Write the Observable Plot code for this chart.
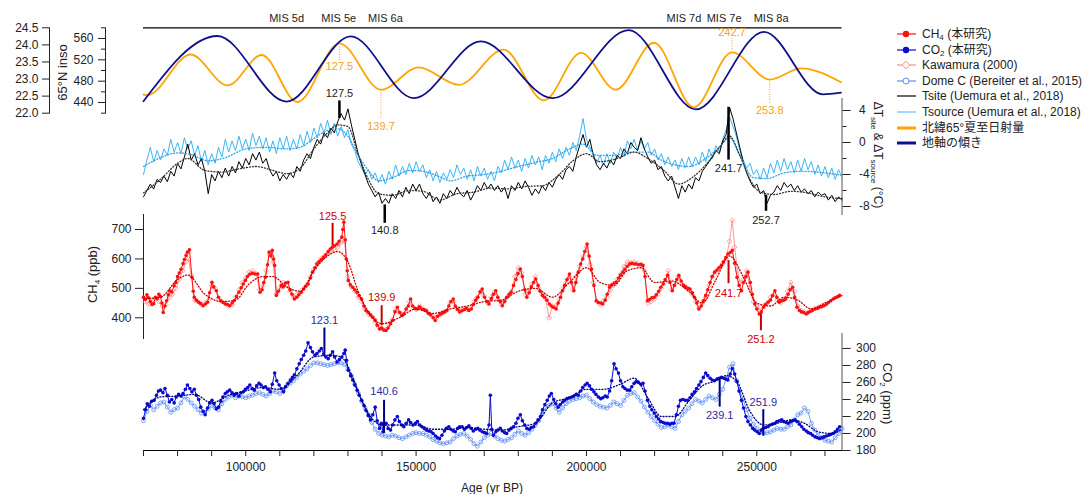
<!DOCTYPE html>
<html><head><meta charset="utf-8">
<script src="https://cdn.jsdelivr.net/npm/d3@7"></script>
<script src="https://cdn.jsdelivr.net/npm/@observablehq/plot@0.6"></script>
<style>
body{margin:0;background:#fff;font-family:"Liberation Sans",Arial,"Noto Sans CJK JP",sans-serif;color:#222}
#chart{position:relative;width:1087px;height:494px;overflow:hidden;background:#fff}
#chart svg{position:absolute;left:0;top:0}
.lab{position:absolute;font-size:12px;white-space:nowrap;line-height:1;transform-origin:center center}
.lab sub{font-size:8px;vertical-align:-3px;line-height:0}
.leg{position:absolute;left:897px;font-size:12px;white-space:nowrap;height:14px;line-height:14px;display:flex;align-items:center}
.leg svg{position:static !important;margin-right:6px}
.leg sub{font-size:8px;vertical-align:-2px;line-height:0}
</style></head><body><div id="chart"></div><script>
// ---------------- data (ages in ka) ----------------
const insoExt = [[70,455],[71.2,454],[83.8,530],[94.7,472],[104.7,529],[115.2,441],[127.5,551],[139.7,464],[150.8,506],[162.5,473],[175.7,539],[187.5,444],[198.4,533],[208.6,464],[219.8,552],[231.5,431],[242.7,534],[253.8,483],[263,504],[274.7,478]];
const oblExt = [[70,22.35],[91.7,24.26],[112,22.34],[130.8,24.25],[149.3,22.44],[169,24.10],[190.1,22.44],[212.4,24.43],[232.1,22.11],[252.1,24.38],[269.4,22.55],[274.7,22.6]];

const tAge = [70,71,72,73,74,75,76,77,78,79,80,81,82,83,84,85,86,87,88,89,90,91,92,93,94,95,96,97,98,99,100,101,102,103,104,105,106,107,108,109,110,111,112,113,114,115,116,117,118,119,120,121,122,123,124,125,126,127,128,129,130,131,132,133,134,135,136,137,138,139,140,141,142,143,144,145,146,147,148,149,150,151,152,153,154,155,156,157,158,159,160,161,162,163,164,165,166,167,168,169,170,171,172,173,174,175,176,177,178,179,180,181,182,183,184,185,186,187,188,189,190,191,192,193,194,195,196,197,198,199,200,201,202,203,204,205,206,207,208,209,210,211,212,213,214,215,216,217,218,219,220,221,222,223,224,225,226,227,228,229,230,231,232,233,234,235,236,237,238,239,240,241,242,243,244,245,246,247,248,249,250,251,252,253,254,255,256,257,258,259,260,261,262,263,264,265,266,267,268,269,270,271,272,273,274,275];
const tSite = [-6.8,-6.0,-5.2,-5.8,-4.6,-5.0,-4.2,-4.9,-3.6,-4.2,
-2.6,-3.3,-1.8,-0.2,-2.2,-1.4,-2.8,-2.0,-3.6,-6.4,
-4.0,-4.8,-3.6,-4.4,-3.2,-4.2,-3.0,-3.8,-2.4,-3.2,
-2.0,-2.8,-1.4,-2.2,-1.2,-2.6,-2.0,-3.4,-4.2,-3.6,
-4.8,-4.0,-4.6,-3.8,-4.4,-3.0,-3.6,-2.2,-1.4,-2.0,
-0.6,0.4,-0.2,1.2,0.6,1.8,1.2,2.6,3.6,2.8,
4.2,2.2,0.4,-1.4,-2.8,-4.0,-5.2,-6.0,-6.8,-6.2,
-7.6,-7.0,-7.6,-6.4,-7.0,-6.0,-6.8,-5.6,-6.4,-5.2,
-6.0,-5.2,-6.4,-7.0,-6.2,-7.4,-6.8,-7.6,-6.4,-7.0,
-6.0,-6.6,-5.6,-6.4,-6.8,-6.0,-7.2,-6.4,-5.4,-6.0,
-5.0,-5.8,-5.2,-6.0,-5.4,-6.2,-5.6,-7.0,-5.4,-6.0,
-5.0,-5.8,-4.8,-5.6,-6.6,-5.8,-6.4,-5.4,-6.0,-5.0,
-5.6,-4.6,-4.0,-4.6,-3.4,-3.0,-3.6,-1.8,-0.4,1.0,
-0.6,0.4,-1.6,-2.8,-3.4,-2.6,-3.2,-2.2,-2.8,-1.6,
-2.0,-0.8,-1.4,0.0,-0.6,-1.0,0.6,-0.8,-1.8,-2.6,
-2.2,-3.4,-3.0,-4.2,-4.8,-4.2,-5.6,-7.0,-5.4,-6.2,
-5.2,-5.8,-4.4,-4.8,-3.6,-3.0,-2.4,-1.8,-1.0,-1.4,
0.2,1.0,4.4,3.0,1.2,-0.6,-2.4,-3.8,-4.8,-5.6,
-5.2,-6.4,-6.0,-7.6,-6.6,-6.2,-5.4,-6.0,-5.0,-5.6,
-5.2,-6.0,-5.4,-6.2,-5.8,-6.4,-6.0,-6.8,-6.2,-6.6,
-6.4,-7.2,-6.6,-7.4,-6.8,-7.2];
const tSource = [-4.0,-2.2,-0.6,-2.4,-1.0,-2.2,-0.8,-1.6,0.4,-1.2,
0.0,-1.4,0.6,-0.8,0.2,-1.6,-0.4,-2.4,-1.0,-2.8,
-1.4,-2.6,-0.6,-1.8,0.4,-1.2,0.2,-1.0,0.8,-0.8,
0.4,-1.0,1.2,-0.4,0.8,-0.8,0.6,-1.2,0.2,-1.4,
0.6,-0.8,0.8,-1.0,0.4,-0.8,1.0,-0.4,1.4,0.0,
1.8,0.6,2.4,1.2,2.8,1.0,2.4,0.8,2.0,0.6,
1.6,-0.2,-1.0,-2.4,-3.2,-4.0,-3.4,-4.6,-3.8,-5.0,
-4.0,-5.2,-3.6,-4.6,-2.8,-4.2,-3.0,-4.0,-2.6,-3.8,
-2.4,-3.6,-2.8,-4.4,-3.4,-4.8,-3.6,-5.0,-3.8,-4.6,
-3.4,-4.4,-2.8,-4.0,-3.2,-4.6,-3.4,-4.8,-3.0,-4.2,
-3.2,-4.6,-3.6,-4.8,-3.0,-3.8,-2.2,-3.4,-1.8,-3.2,
-2.2,-3.6,-2.0,-3.2,-1.6,-2.8,-1.8,-3.4,-1.6,-2.6,
-1.2,-2.4,-0.8,-2.0,-0.6,-1.6,0.0,-1.0,0.8,3.0,
0.4,-0.6,-1.4,-2.6,-1.6,-2.8,-1.4,-2.6,-1.2,-2.0,
-0.6,-1.8,0.2,-0.8,0.4,-1.0,0.2,-0.8,0.0,-1.6,
-0.8,-2.2,-1.4,-2.8,-1.8,-3.0,-2.2,-3.4,-2.0,-3.2,
-1.8,-3.0,-1.8,-2.8,-1.2,-2.4,-0.8,-2.0,-0.4,-1.2,
0.4,1.6,3.2,2.0,0.8,-1.0,-2.2,-3.2,-2.6,-4.0,
-3.4,-4.6,-3.2,-4.4,-2.6,-3.8,-2.2,-3.6,-2.0,-3.4,
-2.4,-3.8,-2.2,-3.6,-2.0,-3.4,-2.4,-4.0,-2.8,-4.2,
-3.0,-4.4,-3.2,-4.6,-3.4,-4.4];
const tSiteSmooth = [[70,-6.3],[75,-4.6],[80,-2.6],[83,-2.0],[88,-3.5],[93,-3.7],[98,-3.3],[103,-3.0],[108,-3.5],[112,-3.9],[116,-3.2],[120,-0.8],[124,1.2],[127,2.2],[130,2.0],[133,-1.5],[136,-4.6],[139,-6.4],[143,-6.6],[148,-6.0],[152,-6.1],[157,-7.2],[162,-6.4],[167,-6.2],[172,-5.7],[177,-5.8],[182,-5.5],[187,-5.4],[192,-4.0],[196,-2.3],[200,-1.4],[204,-2.4],[209,-2.0],[214,-1.2],[218,-2.0],[223,-3.6],[227,-5.2],[231,-4.4],[235,-2.8],[239,-0.6],[242,0.8],[245,-1.6],[248,-4.6],[251,-6.2],[255,-6.5],[260,-6.1],[265,-6.3],[270,-6.8],[275,-7.0]];
const tSourceSmooth = [[70,-3.0],[75,-1.9],[80,-1.3],[84,-1.5],[89,-2.3],[94,-1.9],[100,-0.8],[106,-0.6],[112,-0.8],[116,-0.6],[120,0.5],[124,1.5],[127,1.7],[130,0.8],[133,-1.6],[136,-3.5],[139,-4.8],[143,-4.4],[148,-3.5],[152,-3.6],[157,-4.3],[160,-4.8],[165,-4.2],[170,-4.0],[175,-3.6],[180,-3.0],[185,-2.5],[190,-2.0],[195,-0.8],[199,-0.2],[203,-1.6],[208,-1.6],[213,-1.2],[218,-1.2],[222,-2.2],[226,-2.8],[230,-3.0],[235,-2.0],[239,-0.6],[242,0.6],[245,-1.6],[249,-4.4],[253,-4.5],[258,-3.8],[263,-3.6],[268,-3.7],[275,-4.1]];

const ch4Study = [[70.0,470],[70.5,462],[71.0,478],[71.5,468],[72.0,455],[72.5,445],[73.0,448],[73.5,470],[74.0,465],[74.5,480],[75.0,472],[75.4,450],[75.8,418],[76.3,440],[76.8,458],[77.3,478],[77.7,492],[78.3,488],[79.0,509],[79.5,520],[80.0,540],[80.5,552],[81.0,565],[81.6,584],[82.0,598],[82.5,612],[82.9,623],[83.5,631],[84.2,538],[84.6,490],[84.9,470],[85.5,460],[86.2,453],[86.8,448],[87.5,441],[88.2,447],[88.8,453],[89.4,485],[90.1,521],[90.6,505],[91.4,492],[92.0,470],[92.7,458],[93.4,452],[94.0,447],[94.7,445],[95.3,441],[96.0,450],[96.6,458],[97.3,472],[98.0,487],[98.7,502],[99.3,515],[99.9,527],[100.5,540],[101.2,548],[101.9,551],[102.7,549],[103.5,549],[104.2,487],[104.8,495],[105.3,520],[105.8,538],[106.4,580],[106.9,623],[107.4,610],[107.8,629],[108.2,600],[108.5,578],[109.0,476],[109.6,490],[110.4,510],[111.0,505],[111.7,518],[112.4,521],[113.0,495],[113.6,480],[114.3,464],[115.0,470],[115.6,478],[116.3,487],[117.0,498],[117.6,507],[118.3,515],[119.0,535],[119.6,555],[120.3,570],[120.9,583],[121.5,590],[122.2,598],[122.9,606],[123.5,614],[124.2,625],[124.8,634],[125.4,640],[126.1,645],[126.8,651],[127.4,660],[128.2,674],[128.5,700],[128.8,725],[129.2,665],[129.5,600],[129.8,560],[130.1,527],[130.7,512],[131.4,504],[132.0,495],[132.7,487],[133.3,475],[134.0,464],[134.7,440],[135.3,424],[136.0,418],[136.6,410],[137.3,402],[138.0,392],[138.6,375],[139.3,362],[139.9,365],[140.6,358],[141.2,357],[141.8,365],[142.5,380],[143.1,391],[143.8,420],[144.5,436],[145.2,418],[145.8,408],[146.4,413],[147.1,430],[147.7,440],[148.4,464],[149.0,440],[149.7,432],[150.4,430],[151.0,437],[151.7,430],[152.3,428],[153.0,424],[153.6,415],[154.3,410],[155.0,400],[155.6,391],[156.3,405],[157.0,412],[157.6,415],[158.3,419],[159.0,425],[159.6,440],[160.2,455],[160.9,464],[161.5,440],[162.2,428],[162.8,420],[163.5,424],[164.2,428],[164.8,432],[165.5,425],[166.2,430],[166.8,445],[167.5,460],[168.1,470],[168.8,488],[169.4,498],[170.1,470],[170.8,455],[171.4,447],[172.1,465],[172.7,480],[173.4,492],[174.0,470],[174.7,455],[175.3,441],[176.0,455],[176.6,470],[177.3,480],[177.9,487],[178.6,510],[179.3,530],[179.9,550],[180.6,566],[181.2,540],[181.9,495],[182.5,470],[183.2,485],[183.8,505],[184.5,520],[185.1,532],[185.8,510],[186.4,490],[187.1,476],[187.7,470],[188.4,460],[189.1,447],[189.7,440],[190.4,435],[191.1,430],[191.7,450],[192.4,470],[193.0,492],[193.6,510],[194.3,530],[195.0,549],[195.6,520],[196.3,492],[196.9,520],[197.6,555],[198.3,583],[198.9,600],[199.5,625],[200.2,651],[200.8,610],[201.5,566],[202.2,510],[202.9,458],[203.5,452],[204.2,450],[204.8,447],[205.5,460],[206.1,480],[206.8,504],[207.4,512],[208.1,518],[208.7,521],[209.4,535],[210.0,545],[210.7,555],[211.3,565],[212.0,575],[212.7,583],[213.3,585],[214.0,583],[214.6,583],[215.3,580],[216.0,582],[216.6,578],[217.2,540],[217.9,458],[218.5,462],[219.2,468],[219.9,470],[220.5,478],[221.2,490],[221.8,504],[222.5,515],[223.1,530],[223.8,544],[224.5,520],[225.2,492],[225.8,510],[226.5,530],[227.1,544],[227.8,525],[228.5,510],[229.1,505],[229.8,500],[230.4,498],[231.1,485],[231.7,470],[232.4,450],[233.0,430],[233.7,440],[234.3,458],[235.0,476],[235.6,495],[236.3,520],[236.9,540],[237.6,555],[238.3,562],[238.9,570],[239.6,578],[240.2,590],[240.9,605],[241.5,617],[242.2,622],[242.8,629],[243.5,585],[244.2,538],[244.8,510],[245.5,492],[246.1,520],[246.8,540],[247.4,555],[248.1,520],[248.7,480],[249.4,447],[250.0,430],[250.7,413],[251.3,420],[252.0,436],[252.6,445],[253.3,453],[254.0,460],[254.6,475],[255.3,492],[255.9,470],[256.6,453],[257.2,458],[257.9,460],[258.5,464],[259.2,480],[259.8,495],[260.5,504],[261.1,470],[261.8,436],[262.5,425],[263.1,420],[263.8,418],[264.5,413],[265.1,418],[265.8,422],[266.4,426],[267.1,430],[267.8,432],[268.4,436],[269.1,438],[269.7,441],[270.4,446],[271.0,452],[271.7,458],[272.4,464],[273.0,468],[273.7,472],[274.3,476]];
const ch4Kawamura = [[70.5,455],[71.5,445],[72.5,460],[73.5,465],[74.5,455],[75.5,440],[76.5,445],[77.5,470],[78.5,480],[79.5,500],[80.5,530],[81.5,560],[82.5,590],[83.2,600],[84.0,545],[85.0,460],[86.0,455],[87.0,445],[88.0,450],[89.0,460],[90.0,510],[91.0,500],[92.0,465],[93.0,455],[94.0,450],[95.0,440],[96.0,445],[97.0,470],[98.0,495],[99.0,520],[100.0,535],[101.0,555],[102.0,560],[103.0,550],[104.0,495],[105.0,510],[106.0,560],[107.0,615],[108.0,590],[109.0,480],[110.0,500],[111.0,520],[112.0,510],[113.0,490],[114.0,470],[115.0,478],[116.0,488],[117.0,500],[118.0,512],[119.0,540],[120.0,565],[121.0,585],[122.0,600],[123.0,608],[124.0,618],[125.0,625],[126.0,630],[127.0,640],[128.0,655],[129.0,660],[130.0,540],[131.0,505],[132.0,490],[133.0,470],[134.0,455],[135.0,430],[136.0,412],[137.0,405],[138.0,385],[139.0,368],[140.0,362],[141.0,360],[142.0,375],[143.0,395],[144.0,425],[145.0,420],[146.0,410],[147.0,425],[148.0,455],[149.0,435],[150.0,428],[151.0,440],[152.0,430],[153.0,425],[154.0,412],[155.0,405],[156.0,400],[157.0,410],[158.0,420],[159.0,425],[160.0,450],[161.0,455],[162.0,432],[163.0,425],[164.0,430],[165.0,428],[166.0,435],[167.0,455],[168.0,470],[169.0,490],[170.0,475],[171.0,450],[172.0,470],[173.0,488],[174.0,462],[175.0,445],[176.0,458],[177.0,472],[178.0,490],[179.0,540],[180.0,570],[181.0,552],[182.0,480],[183.0,490],[184.0,515],[185.0,540],[186.0,500],[187.0,480],[188.0,465],[189.0,400],[190.0,440],[191.0,440],[192.0,462],[193.0,500],[194.0,520],[195.0,540],[196.0,495],[197.0,540],[198.0,575],[199.0,610],[200.0,640],[201.0,580],[202.0,520],[203.0,455],[204.0,445],[205.0,458],[206.0,470],[207.0,495],[208.0,510],[209.0,530],[210.0,548],[211.0,575],[212.0,590],[213.0,588],[214.0,590],[215.0,585],[216.0,580],[217.0,560],[218.0,450],[219.0,455],[220.0,465],[221.0,480],[222.0,500],[223.0,520],[224.0,560],[225.0,495],[226.0,515],[227.0,540],[228.0,515],[229.0,505],[230.0,495],[231.0,480],[232.0,455],[233.0,432],[234.0,448],[235.0,470],[236.0,510],[237.0,540],[238.0,555],[239.0,570],[240.0,585],[241.0,600],[242.0,660],[242.8,731],[243.5,640],[244.3,560],[245.0,520],[246.0,530],[247.0,560],[248.0,500],[249.0,455],[250.0,440],[251.0,425],[252.0,440],[253.0,450],[254.0,470],[255.0,480],[256.0,460],[257.0,450],[258.0,462],[259.0,490],[260.0,520],[261.0,490],[262.0,440],[263.0,425],[264.0,420],[265.0,418],[266.0,425],[267.0,432],[268.0,436],[269.0,440],[270.0,445]];
const ch4Smooth = [[70,465],[75,470],[80,530],[83,545],[88,480],[93,455],[97,460],[101,515],[105,540],[108,540],[112,505],[116,490],[120,560],[124,610],[127,625],[130,590],[133,490],[136,420],[140,380],[145,400],[150,430],[155,415],[160,430],[165,440],[170,455],[175,460],[180,490],[185,500],[190,470],[195,520],[200,570],[204,520],[208,510],[212,560],[216,570],[220,520],[225,525],[230,490],[234,450],[238,530],[242,610],[246,540],[250,450],[254,440],[258,470],[262,460],[266,430],[270,450],[275,475]];

const co2Study = [[70.0,218],[70.6,228],[71.1,235],[71.7,232],[72.4,238],[73.1,239],[73.8,245],[74.4,250],[75.0,251],[75.7,248],[76.3,253],[77.0,245],[77.6,237],[78.3,240],[79.0,236],[79.6,243],[80.3,246],[81.0,244],[81.6,247],[82.3,252],[82.9,257],[83.6,253],[84.2,249],[84.9,252],[85.5,245],[86.2,240],[86.8,231],[87.5,226],[88.1,222],[88.8,230],[89.4,236],[90.1,239],[90.7,235],[91.4,229],[92.0,231],[92.7,238],[93.3,243],[94.0,247],[94.6,249],[95.3,251],[96.0,248],[96.6,245],[97.3,247],[98.0,244],[98.6,248],[99.3,249],[99.9,252],[100.6,254],[101.2,257],[101.9,253],[102.5,251],[103.2,256],[103.9,259],[104.5,257],[105.2,254],[105.8,255],[106.5,252],[107.2,249],[107.8,258],[108.5,271],[109.1,262],[109.8,257],[110.4,253],[111.1,249],[111.7,255],[112.4,259],[113.1,263],[113.7,266],[114.3,269],[115.0,276],[115.7,282],[116.3,287],[117.0,292],[117.6,297],[118.3,306.6],[119.0,301],[119.6,296],[120.3,292],[120.9,294],[121.6,297],[122.2,300],[122.9,293],[123.5,290],[124.2,288],[124.8,292],[125.5,296],[126.1,290],[126.8,284],[127.5,287],[128.2,290],[128.8,294],[129.2,298],[129.6,286],[130.1,274.5],[130.8,268],[131.4,263],[132.0,257],[132.7,251],[133.3,245],[134.0,239],[134.7,233],[135.3,227],[136.0,221],[136.6,216],[137.3,222],[138.0,231],[138.6,215],[139.3,206],[139.8,212],[140.3,202],[140.6,210],[141.2,212],[141.8,206],[142.5,204],[143.1,210],[143.8,216],[144.5,220],[145.1,214],[145.8,210],[146.4,208],[147.1,212],[147.8,216],[148.4,213],[149.1,210],[149.8,212],[150.4,214],[151.1,210],[151.7,208],[152.4,206],[153.0,204],[153.7,203],[154.4,202],[155.0,200],[155.7,197],[156.3,195],[156.9,194],[157.6,198],[158.3,203],[158.9,206],[159.6,208],[160.2,205],[160.9,203],[161.5,202],[162.2,206],[162.8,208],[163.5,208],[164.2,205],[164.8,207],[165.5,209],[166.2,206],[166.8,203],[167.5,205],[168.1,206],[168.7,204],[169.4,202],[170.1,201],[170.7,200],[171.4,210],[171.8,245],[172.2,205],[172.7,198],[173.4,202],[174.0,204],[174.7,206],[175.3,203],[176.0,201],[176.6,200],[177.3,204],[177.9,206],[178.6,208],[179.3,212],[179.9,218],[180.6,222],[181.2,215],[181.9,210],[182.5,206],[183.2,205],[183.8,207],[184.5,208],[185.1,212],[185.8,216],[186.5,220],[187.1,228],[187.8,234],[188.5,239],[189.1,244],[189.7,247],[190.4,240],[191.0,235],[191.7,231],[192.3,234],[193.0,237],[193.6,239],[194.3,241],[195.0,242],[195.7,243],[196.3,244],[197.0,246],[197.6,245],[198.3,250],[198.9,254],[199.6,257],[200.2,259],[200.9,256],[201.5,252],[202.2,249],[202.8,246],[203.5,243],[204.2,241],[204.8,242],[205.5,244],[206.1,243],[206.8,250],[207.4,262],[208.1,282],[208.7,276],[209.4,271],[210.0,262],[210.7,255],[211.3,253],[212.0,251],[212.7,251],[213.3,255],[214.0,259],[214.6,261],[215.3,260],[216.0,258],[216.6,259],[217.2,250],[217.9,239],[218.6,232],[219.2,228],[219.9,224],[220.5,220],[221.2,217],[221.8,214],[222.5,213],[223.1,212],[223.8,212],[224.5,211],[225.1,212],[225.7,212],[226.4,222],[227.0,232],[227.6,239],[228.3,240],[229.0,239],[229.7,239],[230.4,242],[231.0,246],[231.7,249],[232.3,253],[233.0,257],[233.6,261],[234.3,266],[235.0,271],[235.6,268],[236.3,265],[236.9,263],[237.6,262],[238.3,264],[238.9,265],[239.6,266],[240.3,265],[240.9,264],[241.5,263],[242.2,270],[242.8,276.5],[243.5,270],[244.2,261],[244.8,250],[245.5,239],[246.1,230],[246.8,220],[247.4,214],[248.1,210],[248.8,206],[249.4,204],[250.1,202],[250.7,200],[251.3,204],[251.9,206],[252.6,207],[253.3,208],[253.9,210],[254.6,211],[255.3,212],[255.9,214],[256.6,215],[257.3,216],[257.9,214],[258.6,213],[259.2,212],[259.9,214],[260.5,215],[261.2,216],[261.8,214],[262.5,211],[263.2,208],[263.8,205],[264.5,203],[265.1,201],[265.8,200],[266.4,198],[267.1,196],[267.8,195],[268.4,194],[269.1,195],[269.7,196],[270.4,197],[271.1,198],[271.7,199],[272.4,200],[273.0,202],[273.7,205],[274.3,208]];
const co2DomeC = [[70,215],[71,226],[72,233],[73,228],[74,232],[75,236],[76,237],[77,231],[78,225],[79,228],[80,230],[81,236],[82,243],[83,240],[84,236],[85,232],[86,228],[87,224],[88,225],[89,229],[90,233],[91,230],[92,228],[93,235],[94,240],[95,243],[96,245],[97,242],[98,244],[99,243],[100,242],[101,244],[102,245],[103,247],[104,248],[105,246],[106,244],[107,247],[108,250],[109,249],[110,247],[111,251],[112,256],[113,259],[114,262],[115,266],[116,270],[117,273],[118,276],[119,280],[120,283],[121,283],[122,282],[123,281],[124,280],[125,281],[126,282],[127,283],[128,283],[129,281],[130,276],[131,268],[132,258],[133,248],[134,238],[135,230],[136,222],[137,213],[138,205],[139,200],[140,198],[141,197],[142,196],[143,198],[144,197],[145,195],[146,194],[147,196],[148,198],[149,200],[150,201],[151,200],[152,200],[153,198],[154,196],[155,193],[156,191],[157,189],[158,188],[159,189],[160,190],[161,194],[162,197],[163,199],[164,200],[165,197],[166,193],[167,188],[168,185],[169,190],[170,195],[171,198],[172,200],[173,197],[174,194],[175,192],[176,191],[177,193],[178,195],[179,199],[180,203],[181,200],[182,198],[183,201],[184,205],[185,210],[186,215],[187,223],[188,230],[189,233],[190,235],[191,230],[192,225],[193,230],[194,235],[195,238],[196,240],[197,241],[198,242],[199,244],[200,245],[201,241],[202,237],[203,234],[204,232],[205,231],[206,230],[207,233],[208,237],[209,235],[210,233],[211,239],[212,245],[213,247],[214,248],[215,243],[216,238],[217,231],[218,225],[219,220],[220,215],[221,211],[222,207],[223,208],[224,210],[225,208],[226,206],[227,214],[228,222],[229,226],[230,230],[231,235],[232,240],[233,238],[234,236],[235,240],[236,244],[237,242],[238,240],[239,246],[240,252],[241,265],[242,278],[243,282],[244,262],[245,250],[246,240],[247,228],[248,218],[249,211],[250,206],[251,202],[252,200],[253,201],[254,202],[255,204],[256,206],[257,205],[258,205],[259,208],[260,210],[261,216],[262,222],[263,224],[264,230],[265,226],[266,212],[267,204],[268,198],[269,195],[270,192],[271,191],[272,190],[273,195],[274,200],[275,206]];
const co2Smooth = [[70,228],[75,243],[80,244],[85,246],[90,236],[95,245],[100,250],[105,254],[110,252],[115,268],[120,290],[125,292],[128,290],[131,270],[134,240],[137,218],[140,210],[145,210],[150,210],[155,205],[160,205],[165,207],[170,205],[175,204],[180,208],[185,212],[190,236],[195,242],[200,252],[205,252],[210,258],[214,265],[218,242],[222,220],[226,220],[230,238],[234,256],[238,262],[241,268],[244,262],[248,226],[252,210],[256,212],[260,216],[264,212],[268,202],[272,200],[275,205]];

const misLabels = [[112,"MIS 5d"],[127.3,"MIS 5e"],[141,"MIS 6a"],[228.6,"MIS 7d"],[240.4,"MIS 7e"],[254.2,"MIS 8a"]];
// annotation markers: [age, top, bottom, label value position, label]
const insoNotes = [[127.5,544,516,507,"127.5"],[139.7,463,410,396,"139.7"],[242.7,560,536,571,"242.7"],[253.8,483,438,425,"253.8"]];
const tempNotes = [[127.5,5.2,3.0,6.1,"127.5"],[140.8,-7.8,-10.1,-11.0,"140.8"],[241.7,4.4,-2.2,-3.3,"241.7"],[252.7,-6.6,-8.6,-9.8,"252.7"]];
const ch4Notes = [[125.5,721,645,746,"125.5"],[139.9,441,373,469,"139.9"],[241.7,594,516,482,"241.7"],[251.2,414,356,326,"251.2"]];
const co2Notes = [[123.1,324,294,333,"123.1"],[140.6,239,200,250,"140.6"],[239.1,265,231,221,"239.1"],[251.9,228,197,237,"251.9"]];

const tempTicks = [-8,-4,0,4];
const ch4Ticks = [400,500,600,700];
const co2Ticks = [180,200,220,240,260,280,300];
const insoTicks = [440,480,520,560];
const oblTicks = [22,22.5,23,23.5,24,24.5];
const ageTicks = [70000,80000,90000,100000,110000,120000,130000,140000,150000,160000,170000,180000,190000,200000,210000,220000,230000,240000,250000,260000,270000];

// ---------------- helpers ----------------
const FONT = '"Liberation Sans", Arial, "Noto Sans CJK JP", sans-serif';
const W = 1087, H = 494;
const XR = [143, 841.5];
const XD = [70000, 275000];
const pairs = p => p.map(d => ({age: d[0] * 1000, v: d[1]}));
const notes = n => n.map(d => ({age: d[0] * 1000, y1: d[1], y2: d[2], ty: d[3], label: d[4]}));
const tRows = vals => tAge.map((a, i) => ({age: a * 1000, v: vals[i]}));

const C = {
  red: "#ff1010", pink: "#ff8c8c", redDot: "#c80000", redText: "#d00000",
  blue: "#0a0ad0", light: "#5f8ff5", blueDot: "#000080", blueText: "#2c2ca0",
  site: "#000000", source: "#3cb6f5", sourceDot: "#2aa0e8",
  orange: "#ffa500", navy: "#10108c", orangeText: "#f4a31c"
};

function panel(o, marks) {
  return Plot.plot({
    width: W, height: H,
    marginLeft: o.ml, marginRight: o.mr, marginTop: o.mt, marginBottom: o.mb,
    x: {domain: XD, range: XR, axis: null},
    y: {domain: o.yd, axis: null},
    style: {background: "none", overflow: "visible", fontFamily: FONT, fontSize: "12px", color: "#222"},
    marks
  });
}
function noteMarks(n, color, textColor, width) {
  const d = notes(n);
  return [
    Plot.ruleX(d, {x: "age", y1: "y1", y2: "y2", stroke: color, strokeWidth: width}),
    Plot.text(d, {x: "age", y: "ty", text: "label", fill: textColor, fontSize: 11})
  ];
}

const chart = document.getElementById("chart");

// insolation (orange)
const insoRows = pairs(insoExt);
const insoN = notes(insoNotes);
chart.append(panel({ml: 105, mr: W - 841.5, mt: 27.3, mb: H - 112.7, yd: [420, 580]}, [
  Plot.frame({anchor: "left", stroke: "#222"}),
  Plot.axisY({anchor: "left", ticks: [420,460,500,540,580], tickSize: 4, tickFormat: () => "", label: null}),
  Plot.axisY({anchor: "left", ticks: insoTicks, tickSize: 7, tickPadding: 5, tickFormat: d => String(d), label: null}),
  Plot.ruleY([580], {x1: XD[0], x2: XD[1], stroke: "#000", strokeWidth: 1.2}),
  Plot.line(insoRows, {x: "age", y: "v", stroke: C.orange, strokeWidth: 1.8, curve: "monotone-x"}),
  Plot.ruleX(insoN, {x: "age", y1: "y1", y2: "y2", stroke: C.orangeText, strokeWidth: 1, strokeDasharray: "1,1.5"}),
  Plot.text(insoN, {x: "age", y: "ty", text: "label", fill: C.orangeText, fontSize: 11}),
  Plot.text(misLabels, {x: d => d[0] * 1000, y: () => 597.5, text: d => d[1], fill: "#222", fontSize: 11})
]));
// obliquity (navy)
chart.append(panel({ml: 49, mr: W - 841.5, mt: 27.3, mb: H - 112.7, yd: [22, 24.5]}, [
  Plot.frame({anchor: "left", stroke: "#222"}),
  Plot.axisY({anchor: "left", ticks: oblTicks, tickSize: 7, tickPadding: 4, tickFormat: d3.format(".1f"), label: null}),
  Plot.line(pairs(oblExt), {x: "age", y: "v", stroke: C.navy, strokeWidth: 1.8, curve: "monotone-x"})
]));
// temperature
chart.append(panel({ml: 143, mr: W - 841.5, mt: 98, mb: H - 214, yd: [-9, 5.5]}, [
  Plot.frame({anchor: "right", stroke: "#555"}),
  Plot.axisY({anchor: "right", ticks: [-6,-2,2], tickSize: 4, tickFormat: () => "", label: null}),
  Plot.axisY({anchor: "right", ticks: tempTicks, tickSize: 8, tickPadding: 9, tickFormat: d => d < 0 ? "-" + (-d) : String(d), label: null}),
  Plot.line(tRows(tSource), {x: "age", y: "v", stroke: C.source, strokeWidth: 1}),
  Plot.line(tRows(tSite), {x: "age", y: "v", stroke: C.site, strokeWidth: 1}),
  Plot.line(pairs(tSourceSmooth), {x: "age", y: "v", stroke: C.sourceDot, strokeWidth: 1.3, strokeDasharray: "1,2", curve: "monotone-x"}),
  Plot.line(pairs(tSiteSmooth), {x: "age", y: "v", stroke: "#333", strokeWidth: 1.3, strokeDasharray: "1,2", curve: "monotone-x"}),
  ...noteMarks(tempNotes, "#000", "#222", 2.5)
]));
// CH4
chart.append(panel({ml: 143, mr: W - 841.5, mt: 214, mb: H - 338, yd: [329.6, 751]}, [
  Plot.frame({anchor: "left", stroke: "#222"}),
  Plot.axisY({anchor: "left", ticks: ch4Ticks, tickSize: 8, tickPadding: 4, tickFormat: d => String(d), label: null}),
  Plot.line(pairs(ch4Kawamura), {x: "age", y: "v", stroke: C.pink, strokeWidth: 0.9}),
  Plot.dot(pairs(ch4Kawamura), {x: "age", y: "v", stroke: C.pink, symbol: "diamond2", r: 2.2, strokeWidth: 0.8, fill: "none"}),
  Plot.line(pairs(ch4Study), {x: "age", y: "v", stroke: C.red, strokeWidth: 1}),
  Plot.dot(pairs(ch4Study), {x: "age", y: "v", fill: C.red, r: 1.8}),
  Plot.line(pairs(ch4Smooth), {x: "age", y: "v", stroke: C.redDot, strokeWidth: 1.3, strokeDasharray: "1,2", curve: "monotone-x"}),
  ...noteMarks(ch4Notes, C.redDot, C.redText, 2)
]));
// CO2
chart.append(Plot.plot({
  width: W, height: H, marginLeft: 143, marginRight: W - 841.5, marginTop: 333, marginBottom: H - 450,
  x: {domain: XD, range: XR},
  y: {domain: [180, 317.6], axis: null},
  style: {background: "none", overflow: "visible", fontFamily: FONT, fontSize: "12px", color: "#222"},
  marks: [
    Plot.frame({anchor: "right", stroke: "#555"}),
    Plot.frame({anchor: "bottom", stroke: "#000"}),
    Plot.axisY({anchor: "right", ticks: co2Ticks, tickSize: 8, tickPadding: 6, tickFormat: d => String(d), label: null}),
    Plot.axisX({anchor: "bottom", ticks: ageTicks, tickSize: 6, tickPadding: 6, tickFormat: d => d % 50000 === 0 ? String(d) : "", label: null}),
    Plot.line(pairs(co2DomeC), {x: "age", y: "v", stroke: C.light, strokeWidth: 0.9}),
    Plot.dot(pairs(co2DomeC), {x: "age", y: "v", stroke: C.light, r: 2, strokeWidth: 0.8, fill: "none"}),
    Plot.line(pairs(co2Study), {x: "age", y: "v", stroke: C.blue, strokeWidth: 1}),
    Plot.dot(pairs(co2Study), {x: "age", y: "v", fill: C.blue, r: 1.8}),
    Plot.line(pairs(co2Smooth), {x: "age", y: "v", stroke: C.blueDot, strokeWidth: 1.3, strokeDasharray: "1,2", curve: "monotone-x"}),
    ...noteMarks(co2Notes, C.blueDot, C.blueText, 2)
  ]
}));

// ---------------- text labels ----------------
function label(html, x, y, rot, size) {
  const d = document.createElement("div");
  d.className = "lab";
  d.innerHTML = html;
  if (size) d.style.fontSize = size + "px";
  chart.append(d);
  const w = d.offsetWidth, h = d.offsetHeight;
  d.style.left = (x - w / 2) + "px";
  d.style.top = (y - h / 2) + "px";
  d.style.transform = `rotate(${rot}deg)`;
}
label("65°N inso", 62, 72, -90, 13);
label("CH<sub>4</sub> (ppb)", 92, 274, -90, 13);
label("ΔT<sub>site</sub> &amp; ΔT<sub>source</sub> (°C)", 878, 155, 90, 12);
label("CO<sub>2</sub> (ppm)", 888, 393, 90, 13);
label("Age (yr BP)", 492, 488, 0, 12);

// ---------------- legend ----------------
const legendItems = [
  {html: "CH<sub>4</sub> (本研究)", color: C.red, marker: "dot"},
  {html: "CO<sub>2</sub> (本研究)", color: C.blue, marker: "dot"},
  {html: "Kawamura (2000)", color: C.pink, marker: "diamond"},
  {html: "Dome C (Bereiter et al., 2015)", color: C.light, marker: "circle"},
  {html: "Tsite (Uemura et al., 2018)", color: "#444", marker: null, w: 1.6},
  {html: "Tsource (Uemura et al., 2018)", color: "#8fd4f8", marker: null, w: 1.6},
  {html: "北緯65°夏至日射量", color: C.orange, marker: null, w: 3},
  {html: "地軸の傾き", color: C.navy, marker: null, w: 3}
];
legendItems.forEach((it, i) => {
  const row = document.createElement("div");
  row.className = "leg";
  row.style.top = (27 + i * 15.6) + "px";
  let m = "";
  if (it.marker === "dot") m = `<circle cx="9" cy="7" r="3.2" fill="${it.color}"/>`;
  if (it.marker === "circle") m = `<circle cx="9" cy="7" r="3" fill="#fff" stroke="${it.color}" stroke-width="1"/>`;
  if (it.marker === "diamond") m = `<path d="M9 3.2 L12.8 7 L9 10.8 L5.2 7 Z" fill="#fff" stroke="${it.color}" stroke-width="1"/>`;
  row.innerHTML = `<svg width="19" height="14" style="position:static"><line x1="0" x2="19" y1="7" y2="7" stroke="${it.color}" stroke-width="${it.w || 1.2}"/>${m}</svg><span>${it.html}</span>`;
  chart.append(row);
});
</script></body></html>
